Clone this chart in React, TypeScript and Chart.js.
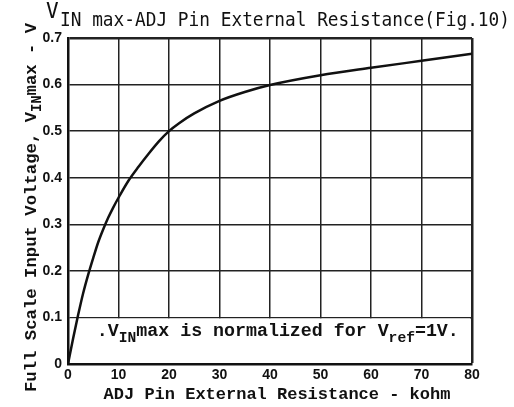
import React, { useEffect, useRef } from "react";
import { Chart, registerables } from "chart.js";

Chart.register(...registerables);

const resistanceKohm = [0, 1, 2, 3, 4, 5, 6, 7, 8, 9, 10, 12, 14, 16, 18, 20, 22, 25, 30, 35, 40, 50, 60, 70, 80];
const vinMax = [0, 0.054, 0.105, 0.152, 0.192, 0.228, 0.262, 0.29, 0.315, 0.337, 0.357, 0.394, 0.424, 0.452, 0.478, 0.5, 0.517, 0.538, 0.565, 0.584, 0.599, 0.62, 0.636, 0.651, 0.666];
const xTickLabels = ["0", "10", "20", "30", "40", "50", "60", "70", "80"];
const yTickLabels = ["0", "0.1", "0.2", "0.3", "0.4", "0.5", "0.6", "0.7"];

const MONO = '"Liberation Mono", "Courier New", monospace';
const SANS = '"Liberation Sans", Arial, sans-serif';

type Part = { t: string; sub?: boolean };

function drawRich(ctx: CanvasRenderingContext2D, parts: Part[], x: number, y: number, size: number) {
  let cx = x;
  for (const p of parts) {
    const s = p.sub ? size * 0.8 : size;
    ctx.font = `bold ${s}px ${MONO}`;
    ctx.fillText(p.t, cx, p.sub ? y + size * 0.3 : y);
    cx += ctx.measureText(p.t).width;
  }
}

const overlay = {
  id: "overlay",
  beforeDatasetsDraw(chart: any) {
    const { ctx, chartArea, scales } = chart;
    const xs = scales.x;
    const ys = scales.y;
    const yTop = ys.getPixelForValue(0.1);
    const yBot = ys.getPixelForValue(0);
    ctx.save();
    ctx.fillStyle = "#fff";
    ctx.fillRect(chartArea.left + 2, yTop + 1, chartArea.right - chartArea.left - 4, yBot - yTop - 2);
    ctx.fillStyle = "#111";
    ctx.textBaseline = "alphabetic";
    ctx.textAlign = "left";
    drawRich(
      ctx,
      [
        { t: ".V" },
        { t: "IN", sub: true },
        { t: "max is normalized for V" },
        { t: "ref", sub: true },
        { t: "=1V." },
      ],
      xs.getPixelForValue(5.7),
      yTop + 19,
      18.3
    );
    ctx.restore();
  },
  afterDraw(chart: any) {
    const { ctx } = chart;
    ctx.save();
    ctx.fillStyle = "#111";
    ctx.textBaseline = "alphabetic";
    ctx.textAlign = "left";
    // Title
    ctx.font = `21px "DejaVu Sans Mono", monospace`;
    ctx.fillText("V", 46, 18);
    ctx.font = `20px "DejaVu Sans Mono", monospace`;
    const rest = "IN max-ADJ Pin External Resistance(Fig.10)";
    const w = ctx.measureText(rest).width;
    const sx = 450 / w;
    ctx.save();
    ctx.translate(60, 26);
    ctx.scale(sx, 1);
    ctx.fillText(rest, 0, 0);
    ctx.restore();
    // X axis title
    ctx.font = `bold 17px ${MONO}`;
    ctx.textAlign = "center";
    ctx.fillText("ADJ Pin External Resistance - kohm", 277, 399);
    // Y axis title
    ctx.save();
    ctx.translate(36, 392);
    ctx.rotate(-Math.PI / 2);
    ctx.textAlign = "left";
    drawRich(
      ctx,
      [{ t: "Full Scale Input Voltage, V" }, { t: "IN", sub: true }, { t: "max - V" }],
      0,
      0,
      17.3
    );
    ctx.restore();
    ctx.restore();
  },
};

export default function App() {
  const ref = useRef<HTMLCanvasElement>(null);
  useEffect(() => {
    if (!ref.current) return;
    const chart = new Chart(ref.current, {
      type: "line",
      data: {
        datasets: [
          {
            data: resistanceKohm.map((x, i) => ({ x, y: vinMax[i] })),
            borderColor: "#111",
            borderWidth: 2.5,
            pointRadius: 0,
            cubicInterpolationMode: "monotone",
            fill: false,
          },
        ],
      },
      options: {
        responsive: false,
        animation: false,
        devicePixelRatio: 1,
        layout: { padding: { top: 38, right: 42, left: 0, bottom: 0 } },
        plugins: { legend: { display: false }, tooltip: { enabled: false }, title: { display: false } },
        scales: {
          x: {
            type: "linear",
            min: 0,
            max: 80,
            ticks: {
              stepSize: 10,
              autoSkip: false,
              maxRotation: 0,
              padding: 3,
              color: "#111",
              font: { family: SANS, weight: "bold", size: 14 },
              callback: (_v: any, i: number) => xTickLabels[i],
            },
            grid: {
              color: "#222",
              lineWidth: (c: any) => (c.tick && c.tick.value === 80 ? 2.5 : 1.5),
              drawTicks: false,
            },
            border: { color: "#111", width: 2.5 },
            afterFit: (s: any) => {
              s.height = 43;
            },
          },
          y: {
            type: "linear",
            min: 0,
            max: 0.7,
            ticks: {
              stepSize: 0.1,
              padding: 6,
              color: "#111",
              font: { family: SANS, weight: "bold", size: 14 },
              callback: (_v: any, i: number) => yTickLabels[i],
            },
            grid: {
              color: "#222",
              lineWidth: (c: any) => (c.tick && Math.abs(c.tick.value - 0.7) < 1e-6 ? 2.5 : 1.5),
              drawTicks: false,
            },
            border: { color: "#111", width: 2.5 },
            afterFit: (s: any) => {
              s.width = 68;
            },
          },
        },
      },
      plugins: [overlay],
    } as any);
    return () => chart.destroy();
  }, []);
  return (
    <div style={{ position: "absolute", left: 0, top: 0, width: 514, height: 407, background: "#fff" }}>
      <canvas ref={ref} width={514} height={407} />
    </div>
  );
}
